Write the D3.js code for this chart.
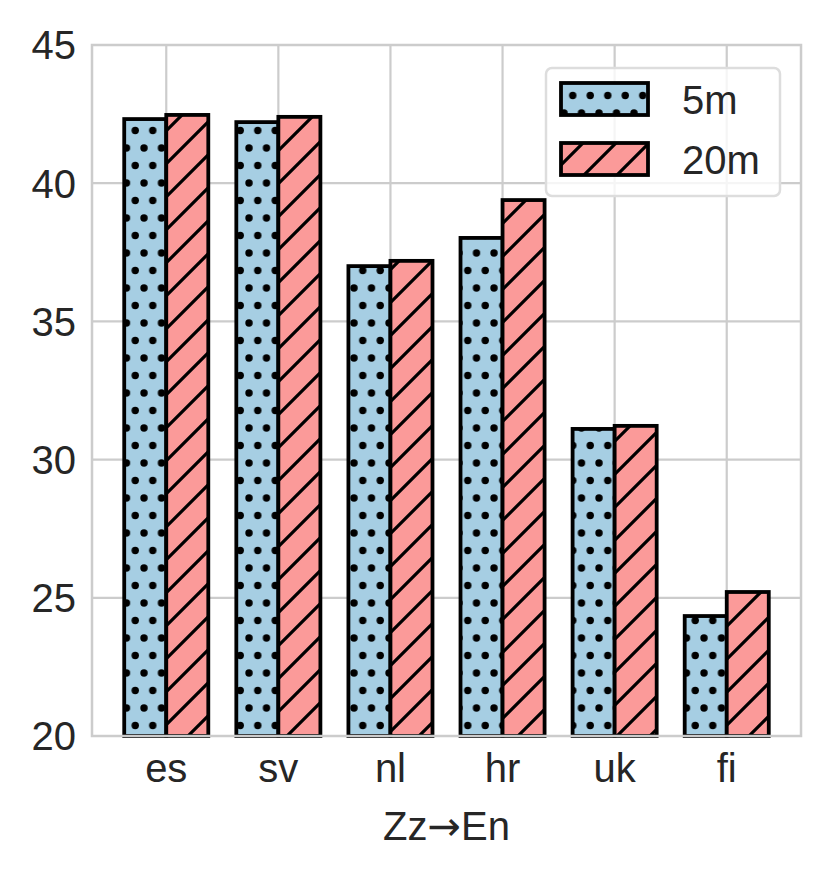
<!DOCTYPE html>
<html lang="en">
<head>
    <meta charset="UTF-8">
    <title>Zz to En bars</title>
    <script src="https://d3js.org/d3.v7.min.js"></script>
    <style>
        body { margin: 0; background: #fff; }
        text { font-family: "Liberation Sans", Arial, sans-serif; fill: #262626; }
        .grid line { stroke: #cccccc; stroke-width: 2.2px; }
        .bar { stroke: #000; stroke-width: 3.8px; }
    </style>
</head>
<body>
<svg id="chart" width="832" height="880"></svg>
<script>
    // data
    const langs = ["es", "sv", "nl", "hr", "uk", "fi"];
    const series = ["5m", "20m"];
    const vals5m = [42.32, 42.21, 37.0, 38.02, 31.11, 24.34];
    const vals20m = [42.47, 42.4, 37.19, 39.39, 31.22, 25.21];
    const yTicks = [20, 25, 30, 35, 40, 45];

    const fills = ["#a6cee3", "#fb9a99"];
    const hatches = ["url(#dots)", "url(#diag)"];
    const barW = 0.375;

    const mLeft = 92, mRight = 801, mTop = 45, mBottom = 736;

    const svg = d3.select("#chart");

    // hatch patterns
    const defs = svg.append("defs");
    const dots = defs.append("pattern")
        .attr("id", "dots")
        .attr("patternUnits", "userSpaceOnUse")
        .attr("width", 17.5).attr("height", 35);
    dots.append("circle").attr("cx", 4).attr("cy", 8).attr("r", 3.7).attr("fill", "#000");
    dots.append("circle").attr("cx", 12.75).attr("cy", 25.5).attr("r", 3.7).attr("fill", "#000");

    const diag = defs.append("pattern")
        .attr("id", "diag")
        .attr("patternUnits", "userSpaceOnUse")
        .attr("width", 33).attr("height", 33);
    diag.append("path")
        .attr("d", "M-8,41 L41,-8 M-8,8 L8,-8 M25,41 L41,25")
        .attr("stroke", "#000").attr("stroke-width", 3.2);

    // matplotlib-ish x limits: bar extent plus 5% margins
    const x = d3.scaleLinear()
        .domain([-0.6625, langs.length - 1 + 0.6625])
        .range([mLeft, mRight]);

    const y = d3.scaleLinear().domain([20, 45]).range([mBottom, mTop]);

    // grid
    const grid = svg.append("g").attr("class", "grid");
    grid.selectAll(".gy").data(yTicks).enter().append("line")
        .attr("x1", mLeft).attr("x2", mRight)
        .attr("y1", d => y(d)).attr("y2", d => y(d));
    grid.selectAll(".gx").data(langs).enter().append("line")
        .attr("x1", (d, i) => x(i)).attr("x2", (d, i) => x(i))
        .attr("y1", mTop).attr("y2", mBottom);

    // bars: colour fill first, hatch + outline on top
    [vals5m, vals20m].forEach((vals, s) => {
        const g = svg.append("g");
        const off = s === 0 ? -barW / 2 : barW / 2;
        g.selectAll("rect.base").data(vals).enter().append("rect")
            .attr("x", (d, i) => x(i + off - barW / 2))
            .attr("width", x(barW) - x(0))
            .attr("y", d => y(d))
            .attr("height", d => y(20) - y(d))
            .attr("fill", fills[s]);
        g.selectAll("rect.hatch").data(vals).enter().append("rect")
            .attr("class", "bar")
            .attr("x", (d, i) => x(i + off - barW / 2))
            .attr("width", x(barW) - x(0))
            .attr("y", d => y(d))
            .attr("height", d => y(20) - y(d))
            .attr("fill", hatches[s]);
    });

    // frame
    svg.append("rect")
        .attr("x", mLeft).attr("y", mTop)
        .attr("width", mRight - mLeft).attr("height", mBottom - mTop)
        .attr("fill", "none").attr("stroke", "#cccccc").attr("stroke-width", 2.5);

    // tick labels
    svg.selectAll(".ylab").data(yTicks).enter().append("text")
        .attr("x", mLeft - 16).attr("y", d => y(d)).attr("dy", "0.36em")
        .attr("text-anchor", "end").attr("font-size", 40)
        .text(d => d);
    svg.selectAll(".xlab").data(langs).enter().append("text")
        .attr("x", (d, i) => x(i)).attr("y", 782)
        .attr("text-anchor", "middle").attr("font-size", 40)
        .text(d => d);
    const xl = svg.append("text")
        .attr("x", (mLeft + mRight) / 2).attr("y", 840)
        .attr("text-anchor", "middle").attr("font-size", 40);
    xl.append("tspan").text("Zz");
    xl.append("tspan").style("font-family", "'DejaVu Sans'").attr("font-size", 40).text("\u2192");
    xl.append("tspan").text("En");

    // legend
    const lg = svg.append("g");
    lg.append("rect")
        .attr("x", 546).attr("y", 68).attr("width", 234).attr("height", 128)
        .attr("rx", 6).attr("fill", "rgba(255,255,255,0.8)")
        .attr("stroke", "#dddddd").attr("stroke-width", 2.5);
    series.forEach((name, s) => {
        const yy = 83 + s * 60;
        lg.append("rect").attr("x", 561).attr("y", yy).attr("width", 87).attr("height", 32)
            .attr("fill", fills[s]);
        lg.append("rect").attr("class", "bar").attr("x", 561).attr("y", yy).attr("width", 87).attr("height", 32)
            .attr("fill", hatches[s]);
        lg.append("text").attr("x", 682).attr("y", yy + 31).attr("font-size", 40).text(name);
    });
</script>
</body>
</html>
